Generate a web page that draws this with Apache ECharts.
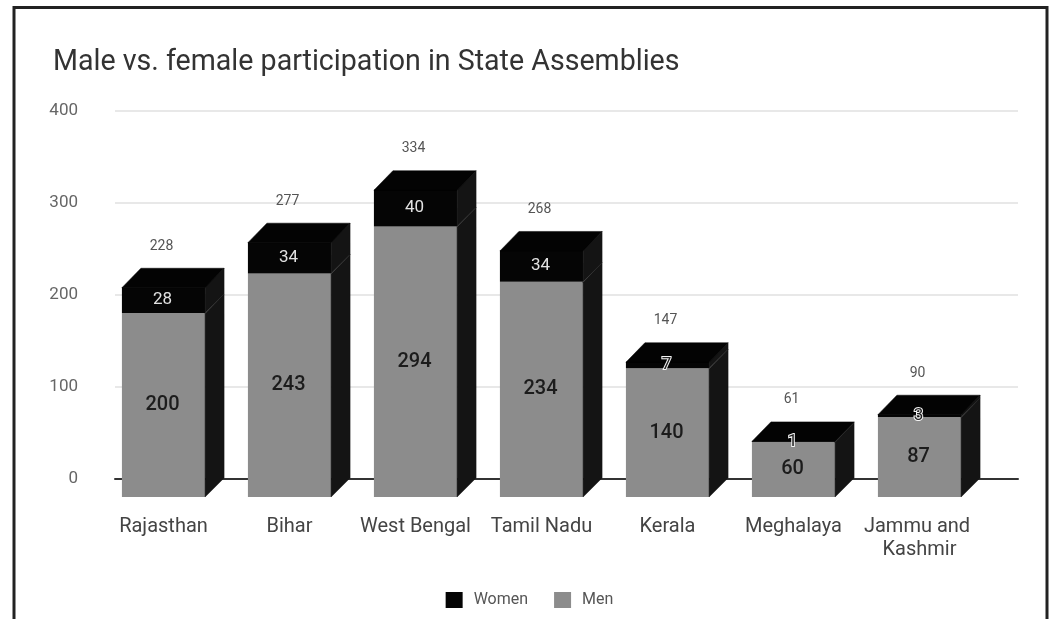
<!DOCTYPE html>
<html><head><meta charset="utf-8">
<script src="https://cdn.jsdelivr.net/npm/echarts@6/dist/echarts.min.js"></script>
<style>html,body{margin:0;padding:0;background:#fff}#c{width:1059px;height:619px}</style>
</head><body><div id="c"></div>
<script>
// ---- data ----
const categories = ['Rajasthan', 'Bihar', 'West Bengal', 'Tamil Nadu', 'Kerala', 'Meghalaya', 'Jammu and Kashmir'];
const men = [200, 243, 294, 234, 140, 60, 87];
const women = [28, 34, 40, 34, 7, 1, 3];
const yMin = 0, yMax = 400, yInterval = 100;
const seriesNames = ['Women', 'Men'];

// ---- style ----
const FONT = 'Roboto, "Noto Sans", sans-serif';
const DX = 19, DY = -19;
const MEN_COLOR = '#8c8c8c', WOMEN_COLOR = '#050505', SIDE_COLOR = '#141414', TOP_COLOR = '#030303';

const rows = categories.map((c, i) => [i, men[i], women[i]]);

function geom(api) {
  const i = api.value(0), m = api.value(1), w = api.value(2);
  const base = api.coord([i, 0]);
  const mt = api.coord([i, m]);
  const tt = api.coord([i, m + w]);
  const bw = api.size([1, 0])[0] * 0.66;
  return { x0: base[0] - bw / 2, x1: base[0] + bw / 2, cx: base[0], yb: base[1], ym: mt[1], yt: tt[1], bw, m, w, total: m + w };
}

function renderMen(params, api) {
  const g = geom(api);
  return {
    type: 'group',
    children: [
      { type: 'rect', shape: { x: g.x0, y: g.ym, width: g.bw, height: g.yb - g.ym }, style: { fill: MEN_COLOR } },
      { type: 'polygon', shape: { points: [[g.x1, g.ym + 0.5], [g.x1 + DX, g.ym + DY], [g.x1 + DX, g.yb + DY], [g.x1, g.yb]] }, style: { fill: SIDE_COLOR, stroke: SIDE_COLOR, lineWidth: 0.5 } },
      { type: 'text', style: { x: g.cx - 1, y: (g.ym + g.yb) / 2, text: String(g.m), fill: '#1c1c1c', font: '500 20px ' + FONT, align: 'center', verticalAlign: 'middle' } }
    ]
  };
}

function renderWomen(params, api) {
  const g = geom(api);
  const segH = g.ym - g.yt;
  const small = segH < 16;
  return {
    type: 'group',
    children: [
      { type: 'rect', shape: { x: g.x0, y: g.yt, width: g.bw, height: segH }, style: { fill: WOMEN_COLOR } },
      { type: 'polygon', shape: { points: [[g.x1, g.yt], [g.x1 + DX, g.yt + DY], [g.x1 + DX, g.ym + DY], [g.x1, g.ym]] }, style: { fill: SIDE_COLOR, stroke: SIDE_COLOR, lineWidth: 0.5 } },
      { type: 'polygon', shape: { points: [[g.x0, g.yt + 0.5], [g.x0 + DX, g.yt + DY], [g.x1 + DX, g.yt + DY], [g.x1, g.yt + 0.5]] }, style: { fill: TOP_COLOR, stroke: TOP_COLOR, lineWidth: 0.5 } },
      { type: 'text', style: { x: g.cx - 1, y: (g.yt + g.ym) / 2, text: String(g.w), fill: small ? '#222' : '#e2e2e2', stroke: small ? '#f4f4f4' : null, lineWidth: small ? 2 : 0, font: '17px ' + FONT, align: 'center', verticalAlign: 'middle' } },
      { type: 'text', style: { x: g.cx - 2, y: g.yt + DY - 22, text: String(g.total), fill: '#555', font: '14px ' + FONT, align: 'center', verticalAlign: 'middle' } }
    ]
  };
}

const chart = echarts.init(document.getElementById('c'), null, { renderer: 'canvas' });
chart.setOption({
  backgroundColor: '#fff',
  animation: false,
  title: { text: 'Male vs. female participation in State Assemblies', left: 48, top: 43,
    textStyle: { fontSize: 28.6, fontWeight: 'normal', color: '#333', fontFamily: FONT } },
  legend: { data: seriesNames, top: 587, left: 'center', icon: 'rect', itemWidth: 17, itemHeight: 16, itemGap: 26,
    textStyle: { fontSize: 16, color: '#555', fontFamily: FONT, padding: [0, 0, 0, 6] } },
  grid: [
    { left: 115, right: 41, top: 110.5, bottom: 140.5 },
    { left: 100.5, right: 76.5, top: 129, bottom: 122 }
  ],
  xAxis: [
    { type: 'category', gridIndex: 0, data: categories, axisTick: { show: false }, axisLabel: { show: false },
      axisLine: { lineStyle: { color: '#333', width: 2 } } },
    { type: 'category', gridIndex: 1, data: categories, axisTick: { show: false }, axisLine: { show: false },
      axisLabel: { interval: 0, fontSize: 20, color: '#444', fontFamily: FONT, margin: 18, lineHeight: 23, width: 125, overflow: 'break' } }
  ],
  yAxis: [
    { type: 'value', gridIndex: 0, min: yMin, max: yMax, interval: yInterval,
      axisLabel: { fontSize: 17, color: '#666', fontFamily: FONT, margin: 37 },
      axisLine: { show: false }, axisTick: { show: false },
      splitLine: { lineStyle: { color: '#e0e0e0', width: 1.5 } } },
    { type: 'value', gridIndex: 1, min: yMin, max: yMax, interval: yInterval, show: false, splitLine: { show: false } }
  ],
  series: [
    { name: 'Men', type: 'custom', xAxisIndex: 1, yAxisIndex: 1, data: rows, renderItem: renderMen,
      itemStyle: { color: MEN_COLOR }, encode: { x: 0, y: 1 }, z: 3 },
    { name: 'Women', type: 'custom', xAxisIndex: 1, yAxisIndex: 1, data: rows, renderItem: renderWomen,
      itemStyle: { color: WOMEN_COLOR }, encode: { x: 0, y: 1 }, z: 4 }
  ],
  graphic: [
    { type: 'polyline', shape: { points: [[14, 619], [14, 7.5], [1047, 7.5], [1047, 619]] },
      style: { stroke: '#222', lineWidth: 3, fill: null }, z: 10 }
  ]
});
</script></body></html>
